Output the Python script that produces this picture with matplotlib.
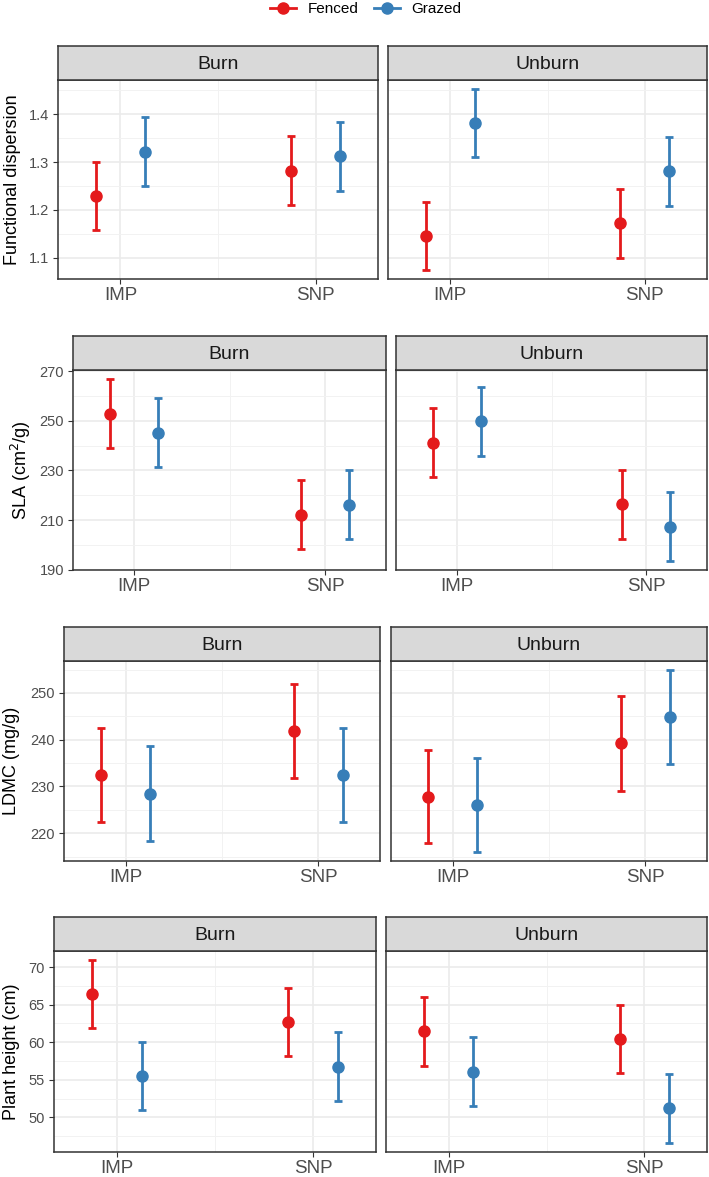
import matplotlib.pyplot as plt
from matplotlib.lines import Line2D
import numpy as np

plt.rcParams['font.family'] = ['Liberation Sans', 'DejaVu Sans']
plt.rcParams['xtick.minor.size'] = 0
plt.rcParams['ytick.minor.size'] = 0

sites = ['IMP', 'SNP']
treatments = ['Burn', 'Unburn']
groups = ['Fenced', 'Grazed']
colors = ['#E41A1C', '#377EB8']

# values indexed [treatment][group][site]
fdis_mean = [[[1.229, 1.281], [1.322, 1.312]], [[1.145, 1.172], [1.382, 1.281]]]
fdis_lo = [[[1.158, 1.210], [1.250, 1.240]], [[1.074, 1.100], [1.311, 1.209]]]
fdis_hi = [[[1.301, 1.354], [1.394, 1.383]], [[1.217, 1.243], [1.453, 1.353]]]

sla_mean = [[[252.9, 212.2], [245.3, 216.0]], [[241.1, 216.3], [249.8, 207.3]]]
sla_lo = [[[239.1, 198.3], [231.5, 202.4]], [[227.3, 202.4], [236.0, 193.5]]]
sla_hi = [[[266.9, 226.0], [259.3, 230.0]], [[255.2, 230.0], [263.8, 221.2]]]

ldmc_mean = [[[232.5, 241.9], [228.4, 232.4]], [[227.8, 239.2], [226.0, 244.9]]]
ldmc_lo = [[[222.5, 231.8], [218.4, 222.4]], [[217.8, 229.1], [216.0, 234.8]]]
ldmc_hi = [[[242.6, 251.9], [238.6, 242.5]], [[237.9, 249.3], [236.1, 254.9]]]

ph_mean = [[[66.36, 62.68], [55.45, 56.70]], [[61.44, 60.47], [56.10, 51.20]]]
ph_lo = [[[61.84, 58.10], [50.93, 52.20]], [[56.90, 55.90], [51.55, 46.60]]]
ph_hi = [[[70.93, 67.20], [60.00, 61.30]], [[66.00, 65.00], [60.70, 55.80]]]

trait_labels = ['Functional dispersion', 'SLA (cm$^2$/g)', 'LDMC (mg/g)', 'Plant height (cm)']
trait_data = [(fdis_mean, fdis_lo, fdis_hi), (sla_mean, sla_lo, sla_hi),
              (ldmc_mean, ldmc_lo, ldmc_hi), (ph_mean, ph_lo, ph_hi)]
trait_ticks = [[1.1, 1.2, 1.3, 1.4], [190, 210, 230, 250, 270],
               [220, 230, 240, 250], [50, 55, 60, 65, 70]]
tick_fmt = ['{:.1f}', '{:.0f}', '{:.0f}', '{:.0f}']

# pixel layout: left1, right1, left2, right2, strip top, strip bottom, panel bottom, ylabel x
W, H = 709, 1177
layout = [(58, 378, 388, 707, 46, 80, 279, 12.5),
          (73, 386, 396, 707, 336, 370, 570, 20.5),
          (64, 380, 391, 707, 627, 661, 861, 11.5),
          (54, 376, 386, 707, 917, 951, 1152, 11.5)]

fig = plt.figure(figsize=(W / 100, H / 100), dpi=100)

def px_axes(l, r, t, b):
    return fig.add_axes([l / W, 1 - b / H, (r - l) / W, (b - t) / H])

x = np.arange(len(sites)) + 1.0
dodge = [-0.126, 0.126]

for row, (lab, (mean, lo, hi)) in enumerate(zip(trait_labels, trait_data)):
    l1, r1, l2, r2, st, sb, pb, ylx = layout[row]
    first = None
    for k, (l, r) in enumerate([(l1, r1), (l2, r2)]):
        ax = px_axes(l, r, sb, pb)
        if first is None:
            first = ax
        else:
            ax.sharey(first)
        for g in range(2):
            m = np.array(mean[k][g])
            yerr = [m - np.array(lo[k][g]), np.array(hi[k][g]) - m]
            ax.errorbar(x + dodge[g], m, yerr=yerr, fmt='o', color=colors[g],
                        ms=8, elinewidth=2.0, capsize=3.2, capthick=2.0, zorder=3)
        ax.set_xlim(0.68, 2.32)
        ax.set_xticks(x)
        ax.set_xticklabels(sites)
        ax.set_xticks([1.5], minor=True)
        tk = np.array(trait_ticks[row], dtype=float)
        step = tk[1] - tk[0]
        if k == 0:
            ax.set_yticks(tk)
            ax.set_yticklabels([tick_fmt[row].format(v) for v in tk])
            ax.set_yticks(np.concatenate([tk - step / 2, [tk[-1] + step / 2]]), minor=True)
        ax.margins(y=0.05)
        ax.grid(which='major', color='#EBEBEB', lw=1.2, zorder=0)
        ax.grid(which='minor', color='#F2F2F2', lw=0.7, zorder=0)
        ax.set_axisbelow(True)
        for sp in ax.spines.values():
            sp.set_color('#333333')
            sp.set_linewidth(1.1)
        ax.tick_params(axis='x', which='major', length=3.5, color='#333333',
                       labelsize=13.5, labelcolor='#4D4D4D', pad=2.5)
        ax.tick_params(axis='y', which='major', length=3.5, color='#333333',
                       labelsize=10.5, labelcolor='#4D4D4D', pad=3)
        if k == 1:
            ax.tick_params(axis='y', which='major', length=0, labelleft=False)
        sax = px_axes(l, r, st, sb)
        sax.set_facecolor('#D9D9D9')
        sax.set_xticks([])
        sax.set_yticks([])
        for sp in sax.spines.values():
            sp.set_color('#333333')
            sp.set_linewidth(1.1)
        sax.text(0.5, 0.47, treatments[k], ha='center', va='center',
                 fontsize=14, color='#1A1A1A', transform=sax.transAxes)
    fig.text(ylx / W, 1 - (sb + pb) / 2 / H, lab, rotation=90, ha='center',
             va='center', fontsize=13)

handles = [Line2D([], [], color=c, marker='o', ms=8, lw=2.0) for c in colors]
fig.legend(handles, groups, loc='center', ncol=2, frameon=False,
           bbox_to_anchor=(366 / W, 1 - 9 / H), fontsize=11,
           handlelength=1.7, handletextpad=0.75, columnspacing=1.0)

fig.savefig('out.png', dpi=100)
